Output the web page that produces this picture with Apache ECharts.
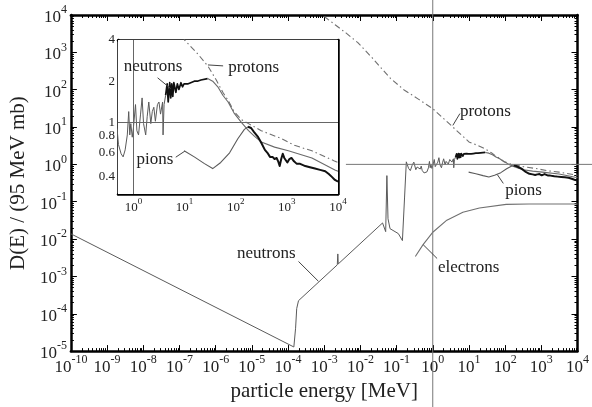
<!DOCTYPE html>
<html>
<head>
<meta charset="utf-8">
<script src="https://cdn.jsdelivr.net/npm/echarts@6/dist/echarts.min.js"></script>
<style>
  html, body { margin: 0; padding: 0; background: #fff; }
  #c { width: 592px; height: 407px; }
</style>
</head>
<body>
<div id="c"></div>
<script>
// Dose per fluence D(E) (normalised to 95 MeV mb) against particle energy in MeV.
// Values are [energy MeV, D] pairs; both axes are logarithmic.

const mainEnergyDecades = [-10, -9, -8, -7, -6, -5, -4, -3, -2, -1, 0, 1, 2, 3, 4];
const mainDoseDecades = [-5, -4, -3, -2, -1, 0, 1, 2, 3, 4];
const insetEnergyDecades = [0, 1, 2, 3, 4];
const insetDoseLabels = [0.4, 0.6, 0.8, 1, 2, 4];
const insetDoseTicks = [0.3, 0.4, 0.5, 0.6, 0.7, 0.8, 0.9, 1, 2, 3, 4];

const neutrons = [
  [1e-10, 0.0138], [1.45e-4, 1.29e-5], [1.62e-4, 4.1e-5], [1.74e-4, 1.38e-4], [1.95e-4, 2.24e-4],
  [2.30e-3, 2.04e-3], [2.38e-3, 4.0e-3], [2.45e-3, 2.16e-3],
  [0.041, 0.027], [0.050, 0.0158], [0.054, 0.50], [0.058, 0.035], [0.066, 0.019],
  [0.112, 0.014], [0.145, 0.0091], [0.166, 0.126], [0.186, 1.17],
  [0.215, 0.78], [0.24, 0.68], [0.27, 0.95], [0.30, 1.15], [0.34, 0.72], [0.37, 0.85],
  [0.41, 0.95], [0.45, 0.75], [0.48, 0.90],
  [0.51, 0.69], [0.575, 0.59], [0.63, 0.56], [0.69, 0.63], [0.76, 0.81], [0.81, 1.20],
  [0.85, 0.81], [0.89, 0.98], [0.95, 0.78], [1.0, 0.91], [1.10, 1.35], [1.17, 0.87],
  [1.26, 0.81], [1.38, 1.15], [1.48, 1.51], [1.58, 0.98], [1.74, 0.81], [1.86, 1.10],
  [2.0, 1.41], [2.19, 0.98], [2.34, 1.20], [2.51, 1.29], [2.69, 1.02], [2.95, 1.35],
  [3.16, 1.41], [3.39, 1.15], [3.72, 1.41], [3.80, 0.81], [3.98, 1.35], [4.27, 1.58],
  [4.57, 1.91], [4.79, 1.41], [5.13, 1.95], [5.37, 1.51], [5.62, 1.91], [5.89, 1.55],
  [6.17, 1.95], [6.76, 1.66], [7.24, 1.91], [7.76, 1.74], [8.51, 1.95], [9.12, 1.82],
  [9.77, 1.91], [11.5, 1.91], [13.2, 1.95], [15.5, 2.0], [17.8, 2.0], [20.9, 2.04],
  [28.2, 2.09], [35.5, 2.0], [44.7, 1.82], [56, 1.58], [71, 1.41], [93, 1.17],
  [129, 1.0], [178, 0.87], [234, 0.79], [316, 0.72], [575, 0.66], [1070, 0.62],
  [3090, 0.55], [8700, 0.45], [1e4, 0.44]
];

const protons = [
  [1e-3, 9120], [2.0e-3, 5500], [3.98e-3, 3310], [8.5e-3, 1820], [0.02, 759], [0.04, 355],
  [0.068, 200], [0.158, 100], [0.4, 56], [1.0, 31], [3.16, 11.2], [10, 4.0], [18.2, 3.16],
  [28.8, 2.57], [41.7, 2.04], [56, 1.66], [71, 1.45], [93, 1.20], [129, 1.05], [178, 0.98],
  [316, 0.87], [794, 0.76], [1410, 0.68], [3090, 0.62], [8300, 0.525], [1e4, 0.51]
];

const pions = [
  [9.8, 0.62], [15.5, 0.56], [24.5, 0.50], [35.5, 0.46], [51, 0.51], [76, 0.60], [110, 0.76],
  [148, 0.89], [174, 0.93],
  [200, 0.91], [229, 0.85], [275, 0.78], [316, 0.71], [372, 0.63], [417, 0.60], [468, 0.56],
  [525, 0.56], [575, 0.54], [631, 0.55], [676, 0.52], [724, 0.48], [776, 0.54], [832, 0.59],
  [891, 0.55], [955, 0.54], [1023, 0.51], [1122, 0.54], [1230, 0.55], [1380, 0.52],
  [1549, 0.50], [1778, 0.50], [2290, 0.48], [2820, 0.47], [3548, 0.46], [4467, 0.45],
  [5623, 0.44], [6607, 0.42], [7586, 0.40], [8710, 0.38], [1e4, 0.37]
];

const electrons = [
  [0.33, 0.0034], [0.54, 0.0071], [1.02, 0.0155], [2.45, 0.032], [6.8, 0.052], [19.5, 0.068],
  [107, 0.085], [457, 0.087], [1e4, 0.087]
];

// ---------------------------------------------------------------------------
const L = Math.log10;
const SERIF = '"Liberation Serif", "Times New Roman", serif';
const TEXT = '#222';

const minorOf = (decades, from, to) => {
  const out = [];
  decades.forEach(n => { for (let k = 2; k <= 9; k++) out.push(n + L(k)); });
  out.push(-1 + L(5), -1 + L(6), -1 + L(7), -1 + L(8), -1 + L(9));
  return out.filter(v => v > from - 1e-9 && v < to + 1e-9);
};

// "10" with a raised exponent
const powRich = (size, supSize, lift) => ({
  b: { fontSize: size, fontFamily: SERIF, color: TEXT, lineHeight: size + lift, verticalAlign: 'bottom' },
  s: { fontSize: supSize, fontFamily: SERIF, color: TEXT, verticalAlign: 'top', lineHeight: supSize }
});
const powFmt = v => '{b|10}{s|' + Math.round(v) + '}';

function axisGroup(dim, gridIndex, min, max, majors, minors, label, lineWidth, name) {
  const sides = dim === 'x' ? ['bottom', 'top'] : ['left', 'right'];
  const base = { type: 'value', gridIndex, min, max, splitLine: { show: false }, animation: false };
  const tick = (vals, len) => ({ show: true, inside: true, length: len, customValues: vals,
    lineStyle: { color: '#000', width: 1 } });
  const out = [];
  sides.forEach((pos, i) => {
    out.push(Object.assign({}, base, {
      position: pos,
      axisLine: { show: true, onZero: false, lineStyle: { color: '#000', width: lineWidth } },
      axisTick: tick(majors, 6),
      axisLabel: i === 0 ? label : { show: false }
    }, i === 0 && name ? name : {}));
    out.push(Object.assign({}, base, {
      position: pos,
      axisLine: { show: false, onZero: false },
      axisTick: tick(minors, 3),
      axisLabel: { show: false }
    }));
  });
  return out;
}

const mainX = axisGroup('x', 0, -10, 4, mainEnergyDecades, minorOf(mainEnergyDecades, -10, 4), {
  show: true, customValues: mainEnergyDecades, formatter: powFmt, rich: powRich(17, 12, 5), margin: 3
}, 2.5, {
  name: 'particle energy [MeV]', nameLocation: 'middle', nameGap: 26,
  nameTextStyle: { fontFamily: SERIF, fontSize: 21, color: TEXT }
});
const mainY = axisGroup('y', 0, -5, 4, mainDoseDecades, minorOf(mainDoseDecades, -5, 4), {
  show: true, customValues: mainDoseDecades, formatter: powFmt, rich: powRich(17, 12, 5), margin: 4
}, 2.5, {
  name: 'D(E) / (95 MeV mb)', nameLocation: 'middle', nameGap: 36,
  nameTextStyle: { fontFamily: SERIF, fontSize: 21, color: TEXT }
});

const insetXMin = L(0.5);
const insetX = axisGroup('x', 1, insetXMin, 4, insetEnergyDecades, minorOf(insetEnergyDecades, insetXMin, 4), {
  show: true, customValues: insetEnergyDecades, formatter: powFmt, rich: powRich(13, 9, 4), margin: 3
}, 2.5);
const insetY = axisGroup('y', 1, L(0.3), L(4), insetDoseTicks.map(L), [], {
  show: true, customValues: insetDoseLabels.map(L),
  formatter: v => String(parseFloat(Math.pow(10, v).toFixed(1))),
  fontFamily: SERIF, fontSize: 13, color: TEXT, margin: 3
}, 2.5);

const toLog = arr => arr.map(([e, d]) => [L(e), L(d)]);
const within = (arr, a, b) => arr.filter(([e]) => e >= a && e <= b);

function curve(data, inset, color, width, dash, z) {
  return {
    type: 'line', xAxisIndex: inset ? 4 : 0, yAxisIndex: inset ? 4 : 0,
    data: toLog(data), showSymbol: false, symbol: 'none', silent: true, animation: false,
    lineStyle: { color, width, type: dash || 'solid', cap: 'butt', join: 'round' }, z: z || 3
  };
}

const DASHDOT = [6, 3, 1.5, 3];
const series = [];
[false, true].forEach(inset => {
  series.push(curve(protons, inset, '#707070', 1.1, DASHDOT));
  series.push(curve(electrons, inset, '#707070', 1.1));
  series.push(curve(within(neutrons, 0, 4.27), inset, '#5a5a5a', 1));
  series.push(curve(within(neutrons, 4.27, 28.2), inset, '#111', 1.7));
  series.push(curve(within(neutrons, 28.2, Infinity), inset, '#6a6a6a', 1.1));
  series.push(curve(within(pions, 0, 174), inset, '#5a5a5a', 1.1));
  series.push(curve(within(pions, 174, Infinity), inset, '#111', 2));
});
// reference lines through E = 1 MeV and D = 1 inside the inset
series[7].markLine = {
  silent: true, symbol: 'none', animation: false, label: { show: false },
  lineStyle: { color: '#666', width: 1, type: 'solid' },
  data: [{ xAxis: 0 }, { yAxis: 0 }]
};

const chart = echarts.init(document.getElementById('c'), null, { renderer: 'canvas' });
chart.setOption({
  animation: false,
  backgroundColor: '#fff',
  grid: [
    { left: 67, top: 15, width: 512, height: 341, containLabel: false },
    { left: 118, top: 40, width: 220, height: 154, show: true, backgroundColor: '#fff', borderWidth: 0, z: 1 }
  ],
  xAxis: mainX.concat(insetX),
  yAxis: mainY.concat(insetY),
  series
});

// Annotations, anchored in axis units (log10 E, log10 D)
const notes = [
  { text: 'protons', inset: false, at: [0.75, 1.41], align: 'left', leader: [[0.555, 1.044], [0.75, 1.36]] },
  { text: 'pions', inset: false, at: [2.0, -0.70], align: 'left', leader: [[1.785, -0.275], [1.95, -0.51]] },
  { text: 'neutrons', inset: false, at: [-3.79, -2.39], align: 'right', leader: [[-3.71, -2.60], [-3.16, -3.13]] },
  { text: 'electrons', inset: false, at: [0.145, -2.76], align: 'left', leader: [[-0.265, -2.15], [0.12, -2.52]] },
  { text: 'neutrons', inset: true, at: [0.384, 0.406], align: 'center', leader: [[0.473, 0.326], [0.729, 0.247]] },
  { text: 'protons', inset: true, at: [1.852, 0.399], align: 'left', leader: [[1.458, 0.42], [1.754, 0.413]] },
  { text: 'pions', inset: true, at: [0.059, -0.268], align: 'left', leader: [[0.828, -0.254], [1.005, -0.21]] }
];

const px = (pt, inset) => chart.convertToPixel(inset ? { xAxisIndex: 4, yAxisIndex: 4 } : { xAxisIndex: 0, yAxisIndex: 0 }, pt);
const W = chart.getWidth(), H = chart.getHeight();
const graphics = [];

// main cross lines at E = 1 MeV (full height) and D = 1 (to the right edge)
const origin = px([0, 0], false);
const hStart = px([-2.4, 0], false);
graphics.push({ type: 'line', silent: true, z: 5, shape: { x1: origin[0], y1: 0, x2: origin[0], y2: H },
  style: { stroke: '#777', lineWidth: 1 } });
graphics.push({ type: 'line', silent: true, z: 5, shape: { x1: hStart[0], y1: origin[1], x2: W, y2: origin[1] },
  style: { stroke: '#777', lineWidth: 1 } });

notes.forEach(n => {
  const p = px(n.at, n.inset);
  graphics.push({ type: 'text', silent: true, z: 6, style: {
    text: n.text, x: p[0], y: p[1], fill: TEXT, font: '17px ' + SERIF,
    align: n.align, textAlign: n.align, verticalAlign: 'middle', textVerticalAlign: 'middle'
  } });
  const a = px(n.leader[0], n.inset), b = px(n.leader[1], n.inset);
  graphics.push({ type: 'line', silent: true, z: 6, shape: { x1: a[0], y1: a[1], x2: b[0], y2: b[1] },
    style: { stroke: '#444', lineWidth: 1 } });
});

chart.setOption({ graphic: graphics });
</script>
</body>
</html>
